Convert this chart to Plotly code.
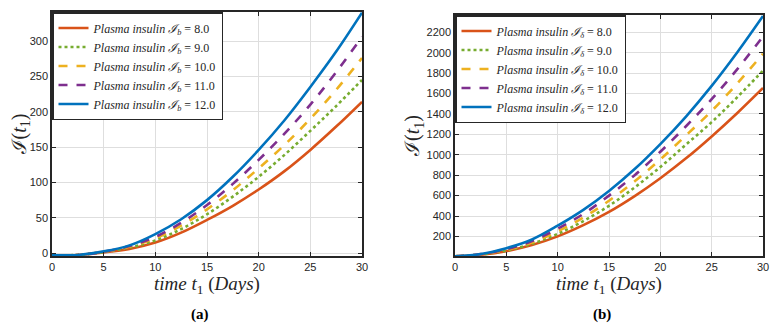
import plotly.graph_objects as go
from plotly.subplots import make_subplots

# time axis (days)
t = [0, 2.5, 5, 7.5, 10, 12.5, 15, 17.5, 20, 22.5, 25, 27.5, 30]

# panel (a)
a_8 = [-3, -2.5, 1, 6, 15, 29, 47, 67, 90, 116, 146, 179, 214]
a_9 = [-3, -2.5, 1.5, 8, 18, 34, 55, 80, 108, 139, 173, 208, 245]
a_10 = [-3, -2.5, 2, 9, 21, 39, 62, 89, 120, 153, 190, 231, 276]
a_11 = [-3, -2.5, 2, 10, 23, 43, 68, 98, 132, 169, 210, 256, 306]
a_12 = [-3, -2.5, 2.5, 11, 27, 48, 75, 108, 146, 188, 235, 285, 340]

# panel (b)
b_8 = [5, 20, 55, 115, 200, 310, 440, 595, 770, 965, 1180, 1410, 1655]
b_9 = [5, 22, 62, 128, 225, 350, 500, 680, 880, 1100, 1320, 1565, 1825]
b_10 = [5, 24, 68, 140, 250, 385, 550, 740, 955, 1190, 1430, 1700, 1990]
b_11 = [5, 26, 75, 155, 275, 420, 600, 800, 1030, 1280, 1545, 1840, 2160]
b_12 = [5, 28, 85, 170, 305, 460, 645, 860, 1105, 1375, 1675, 2005, 2360]

levels = ["8.0", "9.0", "10.0", "11.0", "12.0"]
colors = ["#D95319", "#77AC30", "#EDB120", "#7E2F8E", "#0072BD"]
dashes = ["solid", "dot", "dash", "dash", "solid"]

# page body adds an 8px margin, so the figure is a bit smaller than the window
W, H = 770, 319
OFF = 8
serif = "Liberation Serif, DejaVu Serif, serif"


def px_x(p):
    return (p - OFF) / W


def px_y(p):
    return 1 - (p - OFF) / H


fig = make_subplots(rows=1, cols=2)

for i, ys in enumerate([a_8, a_9, a_10, a_11, a_12]):
    fig.add_trace(go.Scatter(
        x=t, y=ys, mode="lines", line_shape="spline",
        line=dict(color=colors[i], width=2.6, dash=dashes[i]),
        name=f"<i>Plasma insulin ℐ</i><sub><i>b</i></sub> = {levels[i]}",
        legend="legend",
    ), row=1, col=1)

for i, ys in enumerate([b_8, b_9, b_10, b_11, b_12]):
    fig.add_trace(go.Scatter(
        x=t, y=ys, mode="lines", line_shape="spline",
        line=dict(color=colors[i], width=2.6, dash=dashes[i]),
        name=f"<i>Plasma insulin ℐ</i><sub><i>δ</i></sub> = {levels[i]}",
        legend="legend2",
    ), row=1, col=2)

axis_style = dict(
    showline=True, linecolor="#262626", linewidth=1.5, mirror="ticks",
    ticks="inside", ticklen=4, tickcolor="#262626", automargin=False,
    showgrid=True, gridcolor="#dedede", gridwidth=1, zeroline=False,
    tickfont=dict(family="Liberation Sans, Arial, sans-serif", size=11, color="#262626"),
)

xtitle = dict(text="<i>time t</i><sub>1</sub> (<i>Days</i>)",
              font=dict(family=serif, size=19, color="#262626"), standoff=0)
ytitle = dict(text="ℐ(<i>t</i><sub>1</sub>)",
              font=dict(family=serif, size=20, color="#262626"), standoff=0)

fig.update_xaxes(axis_style)
fig.update_yaxes(axis_style)

legend_style = dict(xanchor="left", yanchor="top",
                    bgcolor="white", bordercolor="#262626", borderwidth=1.5,
                    font=dict(family=serif, size=12, color="#262626"),
                    itemwidth=30, tracegroupgap=0)

fig.update_layout(
    xaxis=dict(domain=[px_x(52), px_x(362)], range=[0, 30],
               tickvals=[0, 5, 10, 15, 20, 25, 30], title=xtitle),
    xaxis2=dict(domain=[px_x(455), px_x(763)], range=[0, 30],
                tickvals=[0, 5, 10, 15, 20, 25, 30], title=xtitle),
    yaxis=dict(domain=[px_y(256), px_y(12)], range=[-4, 341],
               tickvals=[0, 50, 100, 150, 200, 250, 300], title=ytitle),
    yaxis2=dict(domain=[px_y(256), px_y(15)], range=[8, 2370],
                tickvals=list(range(200, 2201, 200)), title=ytitle),
    legend=dict(x=px_x(52), y=px_y(12), **legend_style),
    legend2=dict(x=px_x(455), y=px_y(15), **legend_style),
    width=W, height=H,
    margin=dict(l=0, r=0, t=0, b=0),
    plot_bgcolor="white", paper_bgcolor="white",
    annotations=[
        dict(text="<b>(a)</b>", x=px_x(200), y=px_y(314), xref="paper", yref="paper",
             xanchor="center", yanchor="middle", showarrow=False,
             font=dict(family=serif, size=15, color="black")),
        dict(text="<b>(b)</b>", x=px_x(602), y=px_y(314), xref="paper", yref="paper",
             xanchor="center", yanchor="middle", showarrow=False,
             font=dict(family=serif, size=15, color="black")),
    ],
)

fig.write_html("out.html")
